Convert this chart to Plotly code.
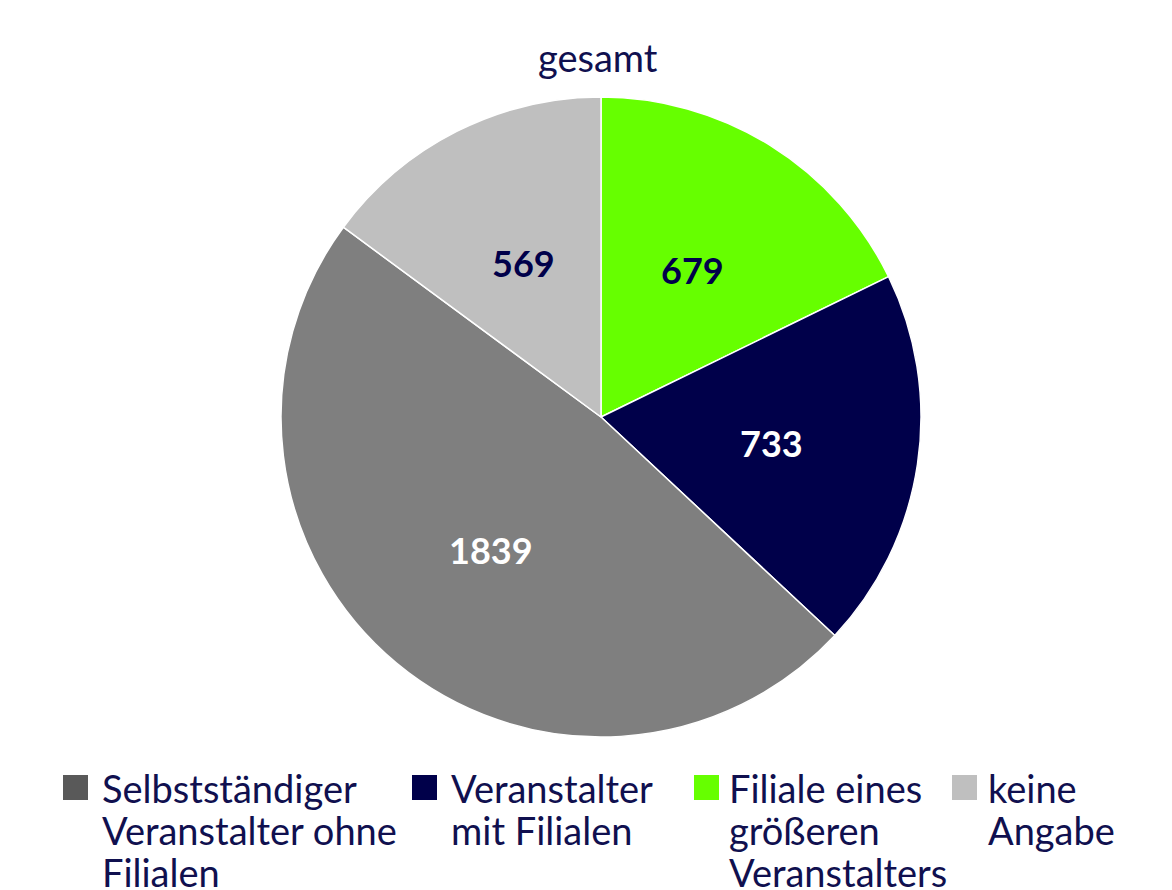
import math
import plotly.graph_objects as go

# legend order
labels = ["Selbstständiger Veranstalter ohne Filialen", "Veranstalter mit Filialen",
          "Filiale eines größeren Veranstalters", "keine Angabe"]
legendLines = [["Selbstständiger", "Veranstalter ohne", "Filialen"],
               ["Veranstalter", "mit Filialen"],
               ["Filiale eines", "größeren", "Veranstalters"],
               ["keine", "Angabe"]]
values = [1839, 733, 679, 569]
colors = ["#7f7f7f", "#00004a", "#66ff00", "#bfbfbf"]
swatchColors = ["#595959", "#00004a", "#66ff00", "#bfbfbf"]
textColors = ["white", "white", "#00004a", "#00004a"]
title = "gesamt"

navy = "#10104f"
font = "Lato"
W, H = 1172, 890

# clockwise from 12 o'clock: green, navy, gray, light gray
pieOrder = [2, 1, 0, 3]
domX = [0.0256, 1]
domY = [0.1719, 0.891]

fig = go.Figure(go.Pie(
    labels=[labels[i] for i in pieOrder],
    values=[values[i] for i in pieOrder],
    marker=dict(colors=[colors[i] for i in pieOrder], line=dict(color="white", width=1.5)),
    textinfo="none",
    sort=False,
    direction="clockwise",
    rotation=0,
    showlegend=False,
    hoverinfo="label+value",
    domain=dict(x=domX, y=domY),
))

annotations = []

# value labels placed at mid-angle of each slice (Excel-like position)
cx = (domX[0] + domX[1]) / 2 * W
cy = (1 - (domY[0] + domY[1]) / 2) * H
R = min((domX[1] - domX[0]) * W, (domY[1] - domY[0]) * H) / 2
total = sum(values)
cum = 0
for i in pieOrder:
    mid = (cum + values[i] / 2) / total * 2 * math.pi
    cum += values[i]
    px = cx + 0.54 * R * math.sin(mid)
    py = cy - 0.54 * R * math.cos(mid)
    annotations.append(dict(text=f"<b>{values[i]}</b>", xref="paper", yref="paper",
                            x=px / W, y=1 - py / H, xanchor="center", yanchor="middle",
                            showarrow=False,
                            font=dict(size=36, color=textColors[i], family=font)))

# custom legend with larger swatches
swatchX = [63, 412, 694, 952]
textX = [100, 449, 727, 986]
shapes = []
for k in range(len(labels)):
    shapes.append(dict(type="rect", xref="paper", yref="paper",
                       x0=swatchX[k] / W, x1=(swatchX[k] + 25) / W,
                       y0=1 - 800 / H, y1=1 - 775 / H,
                       fillcolor=swatchColors[k], line=dict(width=0)))
    for j, line in enumerate(legendLines[k]):
        annotations.append(dict(text=line, xref="paper", yref="paper",
                                x=textX[k] / W, y=1 - (788 + 42 * j) / H,
                                xanchor="left", yanchor="middle", showarrow=False,
                                font=dict(size=38, color=navy, family=font)))

annotations.append(dict(text=title, xref="paper", yref="paper", x=598 / W, y=1 - 57 / H,
                        xanchor="center", yanchor="middle", showarrow=False,
                        font=dict(size=38, color=navy, family=font)))

fig.update_layout(
    width=W, height=H,
    margin=dict(l=0, r=0, t=0, b=0),
    paper_bgcolor="white",
    shapes=shapes,
    annotations=annotations,
)

fig.write_html("out.html", config={"displayModeBar": False},
               post_script="document.body.style.margin='0';")
